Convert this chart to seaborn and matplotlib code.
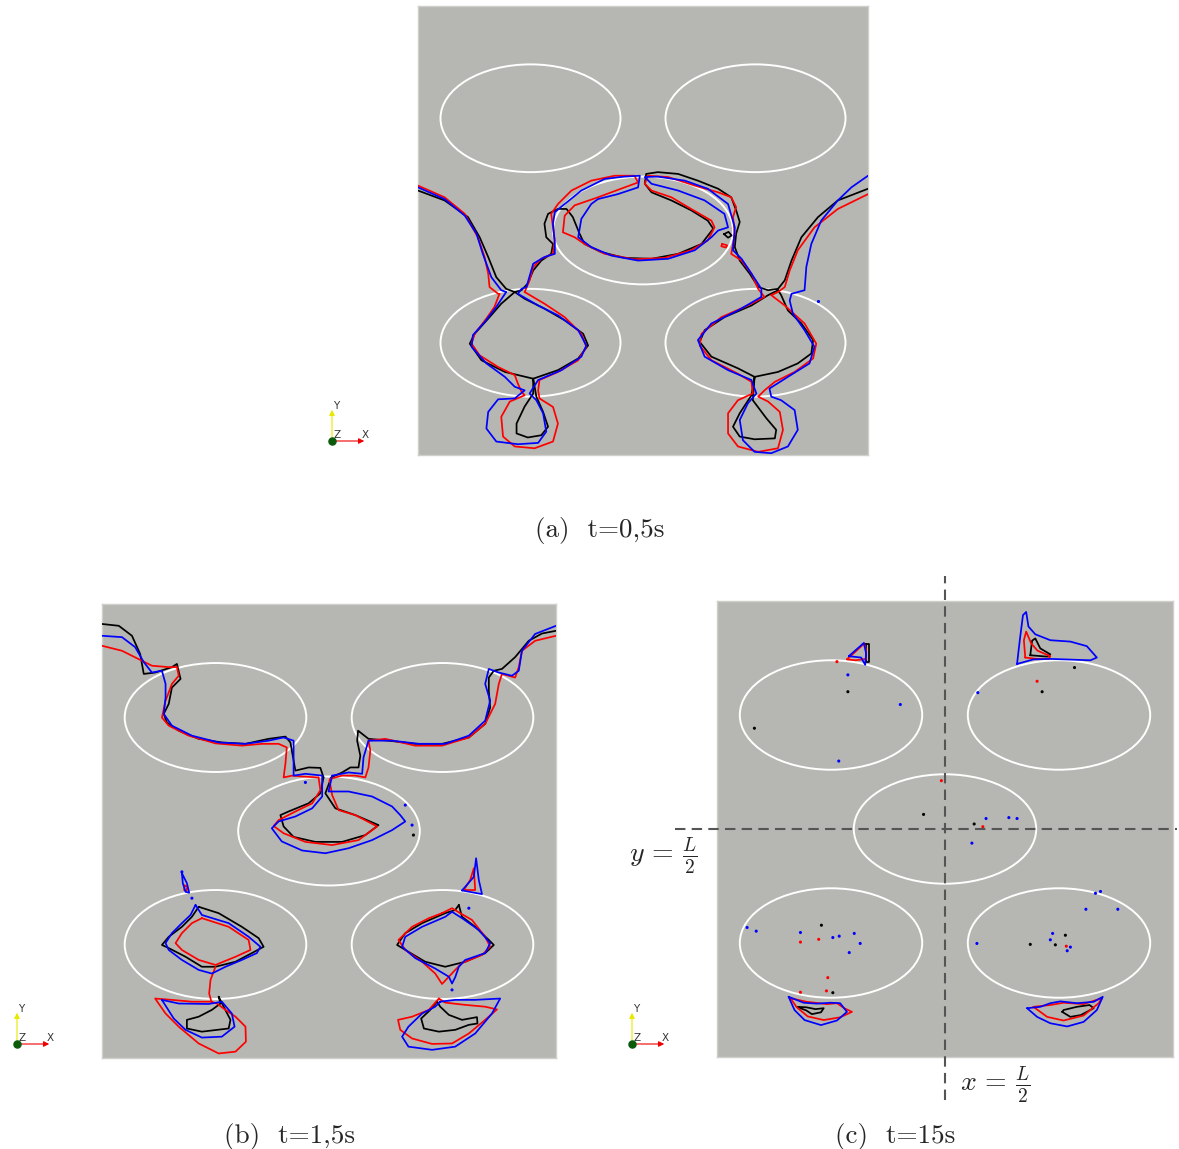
import pandas as pd
import matplotlib.pyplot as plt
from matplotlib.patches import Ellipse
import seaborn as sns

# domain of side L = 1, obstacle cylinders seen as ellipses
ELL_CX = [0.25, 0.75, 0.5, 0.25, 0.75]
ELL_CY = [0.75, 0.75, 0.5, 0.25, 0.25]
ELL_W = 0.40
ELL_H = 0.24

PALETTE = {'black': '#000000', 'red': '#ff0000', 'blue': '#0000ff'}
GREY = '#b6b7b2'


def closed(pts):
    return pts + pts[:1]


# ---------------- (a) t = 0,5 s ----------------
A_BLACK = [
    [(0.000, 0.589), (0.059, 0.567), (0.111, 0.530), (0.137, 0.485), (0.156, 0.441), (0.174, 0.396),
     (0.196, 0.370), (0.215, 0.363)],
    [(0.215, 0.363), (0.230, 0.367), (0.244, 0.382), (0.256, 0.411), (0.274, 0.433), (0.296, 0.448),
     (0.300, 0.470), (0.285, 0.485), (0.281, 0.515), (0.289, 0.537), (0.311, 0.548), (0.330, 0.548),
     (0.344, 0.530), (0.359, 0.493), (0.370, 0.470), (0.407, 0.452), (0.459, 0.439), (0.519, 0.437),
     (0.578, 0.448), (0.630, 0.470), (0.656, 0.504), (0.644, 0.522), (0.607, 0.545), (0.563, 0.567),
     (0.519, 0.585), (0.504, 0.604), (0.507, 0.626), (0.533, 0.630), (0.578, 0.626), (0.622, 0.611),
     (0.667, 0.593), (0.696, 0.574), (0.707, 0.545), (0.715, 0.519), (0.707, 0.493), (0.704, 0.463),
     (0.715, 0.433), (0.737, 0.404), (0.756, 0.374), (0.778, 0.367), (0.800, 0.370), (0.815, 0.389),
     (0.830, 0.433), (0.852, 0.485), (0.889, 0.530), (0.933, 0.567), (1.000, 0.593)],
    closed([(0.215, 0.363), (0.185, 0.337), (0.159, 0.307), (0.126, 0.270), (0.115, 0.248), (0.141, 0.211),
            (0.193, 0.185), (0.256, 0.170), (0.311, 0.189), (0.356, 0.215), (0.378, 0.244), (0.367, 0.270),
            (0.326, 0.300), (0.281, 0.326), (0.237, 0.348)]),
    closed([(0.256, 0.170), (0.256, 0.137), (0.237, 0.108), (0.219, 0.070), (0.219, 0.048), (0.244, 0.039),
            (0.274, 0.044), (0.289, 0.063), (0.278, 0.096), (0.263, 0.130)]),
    closed([(0.800, 0.367), (0.778, 0.356), (0.741, 0.333), (0.681, 0.307), (0.637, 0.278), (0.626, 0.252),
            (0.652, 0.219), (0.711, 0.193), (0.748, 0.174), (0.800, 0.185), (0.844, 0.204), (0.874, 0.226),
            (0.878, 0.256), (0.852, 0.293), (0.822, 0.322), (0.807, 0.356)]),
    closed([(0.748, 0.174), (0.741, 0.133), (0.715, 0.093), (0.700, 0.063), (0.715, 0.041), (0.748, 0.035),
            (0.793, 0.037), (0.796, 0.056), (0.774, 0.082), (0.744, 0.122)]),
    closed([(0.680, 0.492), (0.690, 0.497), (0.697, 0.489), (0.689, 0.484)]),
]

A_RED = [
    [(0.000, 0.600), (0.059, 0.574), (0.104, 0.537), (0.133, 0.485), (0.148, 0.441), (0.156, 0.404),
     (0.159, 0.374), (0.178, 0.359), (0.181, 0.359)],
    [(0.181, 0.359), (0.170, 0.330), (0.152, 0.304), (0.126, 0.270), (0.119, 0.248), (0.137, 0.222),
     (0.178, 0.196), (0.215, 0.178), (0.222, 0.159), (0.230, 0.141), (0.237, 0.133), (0.204, 0.119),
     (0.185, 0.085), (0.189, 0.041), (0.215, 0.019), (0.259, 0.015), (0.300, 0.030), (0.311, 0.070),
     (0.300, 0.107), (0.270, 0.126), (0.267, 0.144), (0.270, 0.167), (0.311, 0.185), (0.356, 0.211),
     (0.374, 0.241), (0.363, 0.270), (0.326, 0.307), (0.281, 0.337), (0.237, 0.363)],
    [(0.237, 0.363), (0.248, 0.389), (0.256, 0.419), (0.274, 0.437), (0.300, 0.448), (0.304, 0.478),
     (0.300, 0.507), (0.296, 0.537), (0.311, 0.559), (0.341, 0.589), (0.385, 0.611), (0.437, 0.622),
     (0.481, 0.622), (0.489, 0.607), (0.459, 0.596), (0.400, 0.574), (0.348, 0.556), (0.326, 0.533),
     (0.322, 0.496), (0.348, 0.485), (0.370, 0.470), (0.415, 0.448), (0.481, 0.436), (0.548, 0.439),
     (0.607, 0.456), (0.644, 0.478), (0.659, 0.507), (0.652, 0.522), (0.607, 0.548), (0.563, 0.574),
     (0.519, 0.589), (0.504, 0.604), (0.511, 0.622), (0.556, 0.619), (0.615, 0.600), (0.667, 0.585),
     (0.696, 0.574), (0.707, 0.552), (0.700, 0.530), (0.704, 0.493), (0.696, 0.448), (0.719, 0.433),
     (0.741, 0.404), (0.756, 0.370), (0.770, 0.352)],
    [(0.770, 0.352), (0.733, 0.333), (0.674, 0.307), (0.630, 0.270), (0.626, 0.244), (0.652, 0.211),
     (0.711, 0.181), (0.741, 0.163), (0.744, 0.137), (0.711, 0.122), (0.689, 0.093), (0.689, 0.048),
     (0.711, 0.019), (0.756, 0.007), (0.800, 0.015), (0.811, 0.056), (0.804, 0.096), (0.778, 0.119),
     (0.756, 0.130), (0.770, 0.144), (0.793, 0.163), (0.837, 0.185), (0.878, 0.215), (0.885, 0.248),
     (0.859, 0.293), (0.815, 0.333), (0.785, 0.356)],
    [(0.785, 0.356), (0.800, 0.363), (0.815, 0.374), (0.826, 0.411), (0.844, 0.456), (0.881, 0.507),
     (0.933, 0.548), (1.000, 0.581)],
    closed([(0.676, 0.470), (0.687, 0.467), (0.684, 0.462), (0.674, 0.465)]),
]

A_BLUE = [
    [(0.000, 0.596), (0.059, 0.570), (0.104, 0.533), (0.130, 0.493), (0.144, 0.448), (0.163, 0.396),
     (0.185, 0.367), (0.196, 0.363)],
    [(0.196, 0.363), (0.174, 0.330), (0.148, 0.296), (0.122, 0.267), (0.119, 0.241), (0.152, 0.204),
     (0.193, 0.174), (0.215, 0.152), (0.237, 0.144), (0.215, 0.126), (0.178, 0.124), (0.156, 0.096),
     (0.152, 0.059), (0.174, 0.030), (0.222, 0.024), (0.267, 0.027), (0.285, 0.052), (0.278, 0.093),
     (0.263, 0.122), (0.248, 0.137), (0.267, 0.167), (0.319, 0.189), (0.363, 0.219), (0.374, 0.244),
     (0.356, 0.278), (0.311, 0.311), (0.267, 0.333), (0.222, 0.359)],
    [(0.222, 0.359), (0.230, 0.370), (0.241, 0.374), (0.256, 0.426), (0.281, 0.441), (0.304, 0.448),
     (0.304, 0.470), (0.300, 0.515), (0.304, 0.541), (0.326, 0.559), (0.363, 0.589), (0.415, 0.615),
     (0.459, 0.620), (0.493, 0.622), (0.489, 0.596), (0.444, 0.581), (0.400, 0.570), (0.385, 0.559),
     (0.363, 0.526), (0.356, 0.485), (0.385, 0.463), (0.430, 0.444), (0.489, 0.433), (0.556, 0.437),
     (0.615, 0.456), (0.652, 0.485), (0.667, 0.500), (0.689, 0.507), (0.681, 0.537), (0.637, 0.567),
     (0.578, 0.589), (0.519, 0.604), (0.504, 0.619), (0.533, 0.620), (0.593, 0.611), (0.644, 0.593),
     (0.689, 0.559), (0.704, 0.507), (0.700, 0.456), (0.719, 0.437), (0.741, 0.404), (0.763, 0.370),
     (0.763, 0.352)],
    [(0.763, 0.352), (0.711, 0.322), (0.652, 0.293), (0.622, 0.256), (0.637, 0.219), (0.689, 0.189),
     (0.741, 0.167), (0.752, 0.137), (0.733, 0.115), (0.715, 0.078), (0.722, 0.033), (0.748, 0.007),
     (0.785, 0.004), (0.822, 0.019), (0.844, 0.056), (0.837, 0.100), (0.807, 0.122), (0.785, 0.130),
     (0.781, 0.148), (0.822, 0.174), (0.870, 0.204), (0.881, 0.241), (0.859, 0.278), (0.833, 0.315),
     (0.826, 0.344), (0.830, 0.359), (0.859, 0.367), (0.863, 0.419), (0.874, 0.470), (0.896, 0.522),
     (0.933, 0.567), (0.963, 0.596), (1.000, 0.622)],
]
A_DOTS_X = [0.889]
A_DOTS_Y = [0.343]
A_DOTS_C = ['blue']

# ---------------- (b) t = 1,5 s ----------------
B_BLACK = [
    [(0.000, 0.956), (0.037, 0.952), (0.066, 0.930), (0.084, 0.890), (0.092, 0.846), (0.117, 0.849),
     (0.154, 0.861), (0.165, 0.868), (0.173, 0.835), (0.154, 0.816), (0.147, 0.780), (0.136, 0.758),
     (0.143, 0.739), (0.169, 0.721), (0.213, 0.703), (0.264, 0.695), (0.316, 0.692), (0.367, 0.703),
     (0.404, 0.708), (0.415, 0.695), (0.422, 0.655), (0.426, 0.633), (0.455, 0.640), (0.481, 0.639),
     (0.488, 0.618)],
    [(0.488, 0.618), (0.481, 0.583), (0.455, 0.561), (0.411, 0.543), (0.393, 0.535), (0.400, 0.510),
     (0.422, 0.487), (0.470, 0.476), (0.529, 0.476), (0.580, 0.491), (0.609, 0.513), (0.558, 0.535),
     (0.514, 0.550), (0.492, 0.583), (0.505, 0.618)],
    [(0.505, 0.618), (0.529, 0.629), (0.547, 0.640), (0.565, 0.640), (0.569, 0.666), (0.562, 0.699),
     (0.564, 0.721), (0.587, 0.703), (0.631, 0.699), (0.690, 0.692), (0.749, 0.692), (0.808, 0.706),
     (0.844, 0.736), (0.855, 0.772), (0.852, 0.809), (0.852, 0.838), (0.863, 0.853), (0.881, 0.857),
     (0.910, 0.883), (0.940, 0.919), (0.969, 0.935), (1.000, 0.941)],
    closed([(0.213, 0.333), (0.257, 0.319), (0.308, 0.289), (0.345, 0.264), (0.356, 0.245), (0.330, 0.231),
            (0.294, 0.212), (0.250, 0.201), (0.220, 0.201), (0.184, 0.223), (0.147, 0.242), (0.132, 0.249),
            (0.147, 0.267), (0.176, 0.289), (0.198, 0.311)]),
    closed([(0.257, 0.135), (0.261, 0.120), (0.242, 0.106), (0.213, 0.091), (0.187, 0.084), (0.187, 0.065),
            (0.220, 0.058), (0.279, 0.065), (0.283, 0.084), (0.268, 0.113)]),
    closed([(0.786, 0.337), (0.793, 0.311), (0.822, 0.289), (0.852, 0.260), (0.863, 0.249), (0.844, 0.231),
            (0.800, 0.212), (0.756, 0.201), (0.712, 0.212), (0.675, 0.234), (0.650, 0.249), (0.668, 0.275),
            (0.705, 0.297), (0.756, 0.319), (0.778, 0.326)]),
    closed([(0.738, 0.124), (0.723, 0.106), (0.703, 0.087), (0.709, 0.065), (0.742, 0.058), (0.778, 0.062),
            (0.808, 0.073), (0.827, 0.076), (0.826, 0.090), (0.793, 0.084), (0.764, 0.095), (0.745, 0.113)]),
]

B_RED = [
    [(0.000, 0.908), (0.044, 0.897), (0.088, 0.875), (0.110, 0.864), (0.147, 0.861), (0.165, 0.861),
     (0.169, 0.842), (0.154, 0.824), (0.140, 0.787), (0.132, 0.750), (0.147, 0.732), (0.191, 0.710),
     (0.250, 0.693), (0.308, 0.688), (0.352, 0.692), (0.389, 0.692), (0.407, 0.684), (0.404, 0.648),
     (0.400, 0.618), (0.419, 0.622), (0.441, 0.620), (0.477, 0.618)],
    [(0.477, 0.618), (0.481, 0.590), (0.463, 0.561), (0.426, 0.543), (0.389, 0.524), (0.378, 0.511),
     (0.400, 0.495), (0.448, 0.476), (0.507, 0.469), (0.565, 0.480), (0.606, 0.510), (0.558, 0.535),
     (0.521, 0.546), (0.507, 0.579), (0.501, 0.612), (0.503, 0.615)],
    [(0.503, 0.615), (0.529, 0.622), (0.558, 0.622), (0.580, 0.618), (0.587, 0.640), (0.591, 0.677),
     (0.587, 0.699), (0.624, 0.703), (0.690, 0.688), (0.749, 0.688), (0.808, 0.706), (0.844, 0.736),
     (0.866, 0.780), (0.874, 0.824), (0.881, 0.846), (0.910, 0.838), (0.918, 0.861), (0.925, 0.897),
     (0.954, 0.919), (1.000, 0.930)],
    closed([(0.220, 0.308), (0.279, 0.289), (0.323, 0.260), (0.327, 0.238), (0.294, 0.223), (0.250, 0.205),
            (0.213, 0.216), (0.176, 0.238), (0.162, 0.253), (0.176, 0.275), (0.198, 0.297)]),
    [(0.250, 0.201), (0.239, 0.172), (0.236, 0.142), (0.241, 0.124)],
    closed([(0.241, 0.124), (0.198, 0.124), (0.154, 0.128), (0.117, 0.131), (0.140, 0.098), (0.169, 0.069),
            (0.213, 0.032), (0.257, 0.010), (0.294, 0.014), (0.317, 0.036), (0.316, 0.069), (0.294, 0.091),
            (0.272, 0.106), (0.253, 0.120)]),
    closed([(0.182, 0.380), (0.188, 0.378), (0.186, 0.368), (0.181, 0.370)]),
    closed([(0.749, 0.319), (0.771, 0.330), (0.789, 0.319), (0.815, 0.304), (0.844, 0.267), (0.855, 0.245),
            (0.837, 0.227), (0.793, 0.209), (0.778, 0.194), (0.749, 0.163), (0.734, 0.186), (0.705, 0.212),
            (0.668, 0.238), (0.653, 0.260), (0.683, 0.289), (0.720, 0.308)]),
    closed([(0.742, 0.131), (0.756, 0.122), (0.800, 0.117), (0.844, 0.113), (0.870, 0.107), (0.844, 0.084),
            (0.808, 0.054), (0.771, 0.032), (0.727, 0.031), (0.683, 0.043), (0.657, 0.062), (0.652, 0.084),
            (0.683, 0.091), (0.720, 0.106)]),
    closed([(0.797, 0.370), (0.811, 0.392), (0.819, 0.418), (0.822, 0.370)]),
]

B_BLUE = [
    [(0.000, 0.930), (0.044, 0.927), (0.073, 0.905), (0.092, 0.872), (0.110, 0.849), (0.132, 0.853),
     (0.140, 0.824), (0.140, 0.794), (0.136, 0.758), (0.154, 0.732), (0.198, 0.710), (0.257, 0.695),
     (0.316, 0.692), (0.367, 0.699), (0.400, 0.706), (0.422, 0.699), (0.422, 0.655), (0.422, 0.622),
     (0.448, 0.626), (0.485, 0.622)],
    [(0.485, 0.622), (0.485, 0.576), (0.463, 0.550), (0.426, 0.532), (0.389, 0.521), (0.374, 0.506),
     (0.396, 0.477), (0.441, 0.457), (0.492, 0.451), (0.543, 0.462), (0.595, 0.480), (0.639, 0.502),
     (0.668, 0.521), (0.657, 0.535), (0.639, 0.554), (0.595, 0.576), (0.543, 0.587), (0.499, 0.587),
     (0.507, 0.622)],
    [(0.507, 0.622), (0.543, 0.629), (0.573, 0.626), (0.576, 0.662), (0.587, 0.699), (0.639, 0.699),
     (0.698, 0.692), (0.756, 0.692), (0.808, 0.710), (0.844, 0.743), (0.855, 0.787), (0.844, 0.824),
     (0.852, 0.857), (0.874, 0.849), (0.903, 0.842), (0.918, 0.853), (0.925, 0.897), (0.954, 0.934),
     (1.000, 0.952)],
    closed([(0.206, 0.337), (0.220, 0.315), (0.279, 0.297), (0.323, 0.267), (0.349, 0.245), (0.341, 0.231),
            (0.308, 0.216), (0.272, 0.201), (0.242, 0.186), (0.213, 0.194), (0.176, 0.216), (0.147, 0.238),
            (0.140, 0.253), (0.154, 0.275), (0.176, 0.297), (0.195, 0.315)]),
    closed([(0.132, 0.128), (0.169, 0.120), (0.235, 0.119), (0.264, 0.124), (0.286, 0.098), (0.292, 0.069),
            (0.264, 0.047), (0.220, 0.045), (0.184, 0.062), (0.158, 0.087)]),
    closed([(0.176, 0.407), (0.178, 0.385), (0.184, 0.366), (0.192, 0.364), (0.187, 0.385), (0.178, 0.403)]),
    closed([(0.771, 0.322), (0.793, 0.308), (0.830, 0.282), (0.855, 0.253), (0.844, 0.231), (0.800, 0.216),
            (0.786, 0.201), (0.778, 0.178), (0.771, 0.164), (0.764, 0.179), (0.734, 0.197), (0.690, 0.220),
            (0.661, 0.245), (0.668, 0.267), (0.705, 0.289), (0.756, 0.311)]),
    closed([(0.745, 0.124), (0.778, 0.128), (0.822, 0.128), (0.877, 0.131), (0.859, 0.098), (0.822, 0.054),
            (0.778, 0.025), (0.727, 0.018), (0.675, 0.025), (0.661, 0.047), (0.675, 0.069), (0.705, 0.098),
            (0.734, 0.113)]),
    closed([(0.793, 0.369), (0.837, 0.361), (0.830, 0.392), (0.824, 0.440), (0.819, 0.399), (0.800, 0.377)]),
]
B_DOTS_X = [0.686, 0.668, 0.683, 0.808, 0.771, 0.176, 0.198, 0.448]
B_DOTS_Y = [0.491, 0.557, 0.513, 0.330, 0.150, 0.410, 0.352, 0.607]
B_DOTS_C = ['black', 'blue', 'blue', 'blue', 'blue', 'blue', 'blue', 'blue']

# ---------------- (c) t = 15 s ----------------
C_BLACK = [
    closed([(0.327, 0.905), (0.334, 0.905), (0.334, 0.866), (0.327, 0.866)]),
    closed([(0.687, 0.881), (0.691, 0.913), (0.698, 0.918), (0.709, 0.896), (0.731, 0.883), (0.724, 0.878)]),
    closed([(0.175, 0.110), (0.196, 0.102), (0.208, 0.094), (0.228, 0.098), (0.234, 0.107), (0.216, 0.105),
            (0.196, 0.109)]),
    closed([(0.757, 0.099), (0.775, 0.088), (0.798, 0.092), (0.826, 0.107), (0.817, 0.114), (0.789, 0.110),
            (0.760, 0.103)]),
]
C_RED = [
    closed([(0.285, 0.872), (0.307, 0.892), (0.323, 0.907), (0.327, 0.892), (0.327, 0.873), (0.303, 0.870)]),
    closed([(0.676, 0.876), (0.673, 0.914), (0.678, 0.933), (0.689, 0.907), (0.703, 0.891), (0.731, 0.879),
            (0.727, 0.873), (0.702, 0.873)]),
    closed([(0.161, 0.129), (0.175, 0.109), (0.199, 0.089), (0.234, 0.081), (0.270, 0.087), (0.296, 0.099),
            (0.279, 0.107), (0.263, 0.118), (0.241, 0.116), (0.197, 0.121)]),
    closed([(0.694, 0.110), (0.724, 0.088), (0.760, 0.080), (0.804, 0.091), (0.837, 0.118), (0.844, 0.129),
            (0.804, 0.116), (0.760, 0.119), (0.731, 0.114)]),
]
C_BLUE = [
    closed([(0.289, 0.879), (0.322, 0.908), (0.327, 0.885), (0.325, 0.860), (0.316, 0.876)]),
    closed([(0.658, 0.862), (0.664, 0.914), (0.671, 0.969), (0.678, 0.976), (0.683, 0.944), (0.698, 0.927),
            (0.731, 0.914), (0.775, 0.911), (0.811, 0.901), (0.833, 0.876), (0.819, 0.870), (0.731, 0.873),
            (0.694, 0.872)]),
    closed([(0.157, 0.132), (0.170, 0.103), (0.192, 0.081), (0.228, 0.070), (0.263, 0.080), (0.285, 0.099),
            (0.270, 0.118), (0.249, 0.119), (0.219, 0.117), (0.190, 0.119)]),
    closed([(0.680, 0.107), (0.702, 0.088), (0.731, 0.074), (0.768, 0.067), (0.804, 0.077), (0.833, 0.103),
            (0.846, 0.132), (0.826, 0.121), (0.789, 0.118), (0.753, 0.122), (0.731, 0.118), (0.709, 0.110)]),
]
C_DOTS_X = [0.287, 0.082, 0.713, 0.784, 0.564, 0.453, 0.229, 0.254, 0.687, 0.742, 0.764,
            0.287, 0.402, 0.267, 0.572, 0.590, 0.640, 0.658, 0.559, 0.841, 0.830, 0.809, 0.879,
            0.066, 0.086, 0.183, 0.254, 0.268, 0.301, 0.314, 0.290, 0.570, 0.731, 0.736, 0.768, 0.775,
            0.702, 0.492, 0.583, 0.263, 0.183, 0.223, 0.243, 0.183, 0.240, 0.766]
C_DOTS_Y = [0.801, 0.721, 0.801, 0.854, 0.511, 0.532, 0.289, 0.141, 0.247, 0.246, 0.267,
            0.838, 0.773, 0.649, 0.799, 0.523, 0.525, 0.523, 0.469, 0.363, 0.359, 0.324, 0.324,
            0.284, 0.276, 0.273, 0.262, 0.265, 0.271, 0.249, 0.229, 0.249, 0.257, 0.271, 0.233, 0.241,
            0.824, 0.606, 0.505, 0.867, 0.252, 0.258, 0.174, 0.142, 0.145, 0.243]
C_DOTS_C = ['black'] * 11 + ['blue'] * 25 + ['red'] * 10

# dashed symmetry lines of panel (c)
SYM_V_X = [0.5, 0.5]
SYM_V_Y = [-0.094, 1.055]
SYM_H_X = [-0.092, 1.009]
SYM_H_Y = [0.5, 0.5]

CAPTIONS = ['(a)  t=0,5s', '(b)  t=1,5s', '(c)  t=15s']


def contour_frame(segs_by_colour):
    rows = []
    sid = 0
    for colour, segs in segs_by_colour.items():
        for seg in segs:
            for x, y in seg:
                rows.append({'x': x, 'y': y, 'seg': sid, 'colour': colour})
            sid += 1
    return pd.DataFrame(rows)


def draw_panel(ax, segs_by_colour, dots_x, dots_y, dots_c):
    ax.set_facecolor(GREY)
    for cx, cy in zip(ELL_CX, ELL_CY):
        ax.add_patch(Ellipse((cx, cy), ELL_W, ELL_H, fill=False, ec='white', lw=1.4, zorder=1))
    df = contour_frame(segs_by_colour)
    sns.lineplot(data=df, x='x', y='y', hue='colour', units='seg', estimator=None, sort=False,
                 palette=PALETTE, legend=False, lw=1.25, ax=ax, zorder=3)
    if dots_x:
        dots = pd.DataFrame({'x': dots_x, 'y': dots_y, 'colour': dots_c})
        sns.scatterplot(data=dots, x='x', y='y', hue='colour', palette=PALETTE, s=5,
                        linewidth=0, legend=False, ax=ax, zorder=4)
    ax.set_xlim(0, 1)
    ax.set_ylim(0, 1)
    ax.set_xticks([])
    ax.set_yticks([])
    ax.set_xlabel('')
    ax.set_ylabel('')
    for s in ax.spines.values():
        s.set_color('#cfcfcb')
        s.set_linewidth(1)


def triad(ov, x0, y0):
    # small orientation glyph, pixel coordinates of the overlay
    ov.annotate('', xy=(x0, y0 - 34), xytext=(x0, y0),
                arrowprops=dict(arrowstyle='-|>', color='#e8e800', lw=0.8, mutation_scale=8))
    ov.annotate('', xy=(x0 + 35, y0), xytext=(x0, y0),
                arrowprops=dict(arrowstyle='-|>', color='#ee0000', lw=0.8, mutation_scale=8))
    ov.scatter([x0], [y0], s=26, color='#0b5a0b', zorder=5)
    ov.text(x0 + 1, y0 - 35, 'Y', fontsize=7.5, color='#333333', va='center', ha='left')
    ov.text(x0 + 33, y0 - 6, 'X', fontsize=7.5, color='#333333', va='center', ha='center')
    ov.text(x0 + 5, y0 - 6, 'Z', fontsize=7.5, color='#333333', va='center', ha='center')


sns.set_style('white')
plt.rcParams['mathtext.fontset'] = 'cm'

W, H = 1179, 1149
fig = plt.figure(figsize=(W / 100, H / 100), dpi=100)

ax_a = fig.add_axes([418 / W, 1 - 455 / H, 450 / W, 449 / H])
ax_b = fig.add_axes([102 / W, 1 - 1058 / H, 454 / W, 454 / H])
ax_c = fig.add_axes([717 / W, 1 - 1057 / H, 456 / W, 456 / H])

draw_panel(ax_a, {'black': A_BLACK, 'red': A_RED, 'blue': A_BLUE}, A_DOTS_X, A_DOTS_Y, A_DOTS_C)
draw_panel(ax_b, {'black': B_BLACK, 'red': B_RED, 'blue': B_BLUE}, B_DOTS_X, B_DOTS_Y, B_DOTS_C)
draw_panel(ax_c, {'black': C_BLACK, 'red': C_RED, 'blue': C_BLUE}, C_DOTS_X, C_DOTS_Y, C_DOTS_C)

dash = (0, (5, 3))
ax_c.plot(SYM_V_X, SYM_V_Y, ls=dash, color='#555555', lw=1.5, clip_on=False, zorder=6)
ax_c.plot(SYM_H_X, SYM_H_Y, ls=dash, color='#555555', lw=1.5, clip_on=False, zorder=6)
ax_c.text(-0.118, 0.44, r'$y\,=\,\frac{L}{2}$', fontsize=20, ha='center', va='center')
ax_c.text(0.61, -0.063, r'$x\,=\,\frac{L}{2}$', fontsize=20, ha='center', va='center')

# overlay in reference pixel coordinates for captions and orientation glyphs
ov = fig.add_axes([0, 0, 1, 1])
ov.set_xlim(0, W)
ov.set_ylim(H, 0)
ov.axis('off')
ov.patch.set_alpha(0)

triad(ov, 332, 441)
triad(ov, 17, 1044)
triad(ov, 632, 1044)

for (cx, cy), label in zip([(600, 531), (290, 1136), (895, 1136)], CAPTIONS):
    ov.text(cx, cy, label, family='cmr10', fontsize=19.5, ha='center', va='center')

fig.savefig('out.png', dpi=100)
